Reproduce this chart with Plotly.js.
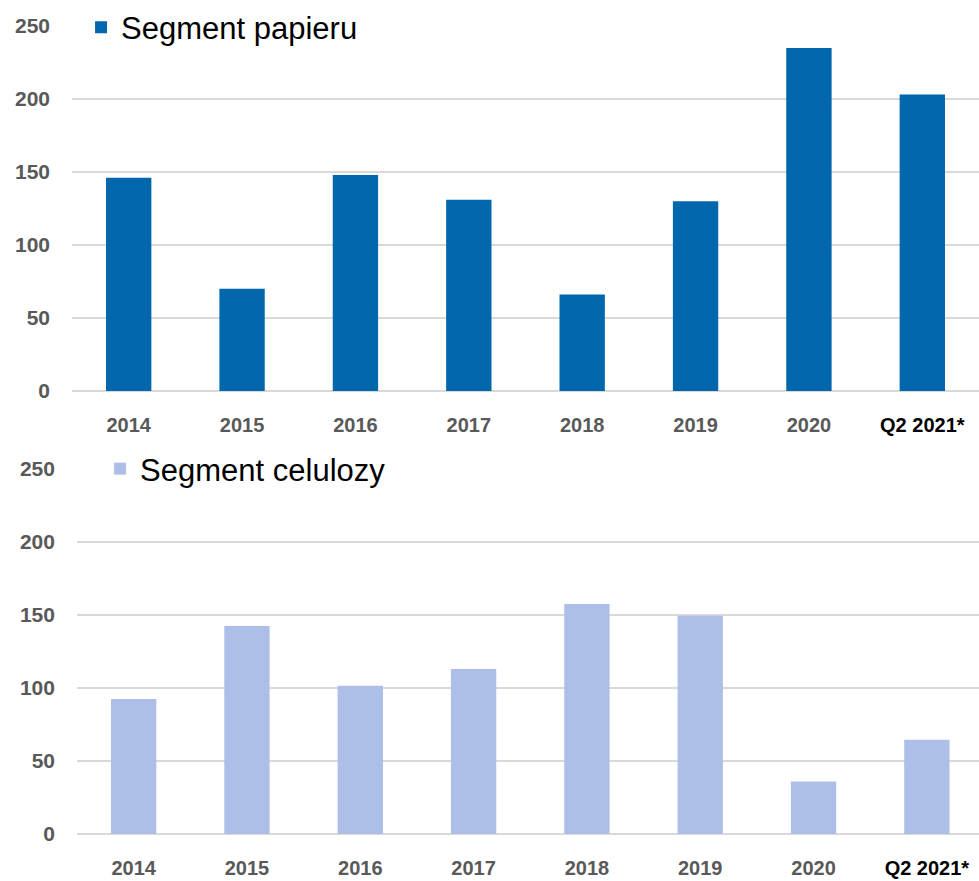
<!DOCTYPE html>
<html>
<head>
<meta charset="utf-8">
<script src="https://cdn.plot.ly/plotly-3.0.1.min.js"></script>
<style>
  html, body { margin: 0; padding: 0; background: #fff; }
  #chart { width: 979px; height: 881px; }
</style>
</head>
<body>
<div id="chart"></div>
<script>
  var categories = ['2014', '2015', '2016', '2017', '2018', '2019', '2020',
    'Q2 2021*'];
  var tickLabels = ['2014', '2015', '2016', '2017', '2018', '2019', '2020',
    '<span style="color:#000">Q2 2021*</span>'];
  var paperValues = [146, 70, 148, 131, 66, 130, 235, 203];
  var pulpValues = [92.5, 142.5, 101.5, 113, 157.5, 149.5, 36, 64.5];
  var yTicks = [0, 50, 100, 150, 200, 250];

  var grid = '#d9d9d9';
  var tickFont = {
    family: '"Liberation Sans Narrow", "Arial Narrow", "Liberation Sans", sans-serif',
    size: 20, color: '#595959', weight: 'bold'
  };
  var yFont = {
    family: '"Liberation Sans", Arial, sans-serif',
    size: 21, color: '#595959', weight: 'bold'
  };

  function xAxis(domain, range, anchor) {
    return {
      domain: domain,
      range: range,
      anchor: anchor,
      type: 'category',
      tickvals: categories,
      ticktext: tickLabels,
      showgrid: false,
      showline: false,
      zeroline: false,
      ticks: '',
      ticklabelstandoff: 20,
      tickfont: tickFont,
      automargin: false,
      fixedrange: true
    };
  }

  function yAxis(domain, anchor) {
    return {
      domain: domain,
      anchor: anchor,
      range: [0, 250],
      tickvals: yTicks,
      showgrid: true,
      gridcolor: grid,
      gridwidth: 2,
      zeroline: true,
      zerolinecolor: grid,
      zerolinewidth: 2,
      showline: false,
      ticks: '',
      ticklabelstandoff: 21,
      tickfont: yFont,
      automargin: false,
      fixedrange: true
    };
  }

  var data = [
    {
      type: 'bar',
      x: categories,
      y: paperValues,
      name: 'Segment papieru',
      marker: {color: '#0067ad'},
      xaxis: 'x',
      yaxis: 'y',
      legend: 'legend',
      hoverinfo: 'x+y'
    },
    {
      type: 'bar',
      x: categories,
      y: pulpValues,
      name: 'Segment celulozy',
      marker: {color: '#adbfe8'},
      xaxis: 'x2',
      yaxis: 'y2',
      legend: 'legend2',
      hoverinfo: 'x+y'
    }
  ];

  var legendFont = {
    family: '"Liberation Sans", Arial, sans-serif', size: 31, color: '#000'
  };

  var layout = {
    width: 979,
    height: 881,
    margin: {l: 72, r: 0, t: 26, b: 47, autoexpand: false},
    paper_bgcolor: '#fff',
    plot_bgcolor: '#fff',
    bargap: 0.6,
    showlegend: true,
    xaxis: xAxis([0, 1], [-0.5, 7.5], 'y'),
    yaxis: yAxis([0.5483, 1], 'x'),
    xaxis2: xAxis([0.0055, 1], [-0.5, 7.46], 'y2'),
    yaxis2: yAxis([0, 0.4517], 'x2'),
    legend: {
      x: 0.01, y: 0.998, xanchor: 'left', yanchor: 'middle',
      bgcolor: '#fff', borderwidth: 0, font: legendFont,
      itemclick: false, itemdoubleclick: false
    },
    legend2: {
      x: 0.031, y: 0.4517, xanchor: 'left', yanchor: 'middle',
      bgcolor: '#fff', borderwidth: 0, font: legendFont,
      itemclick: false, itemdoubleclick: false
    }
  };

  Plotly.newPlot('chart', data, layout, {displayModeBar: false});
</script>
</body>
</html>
